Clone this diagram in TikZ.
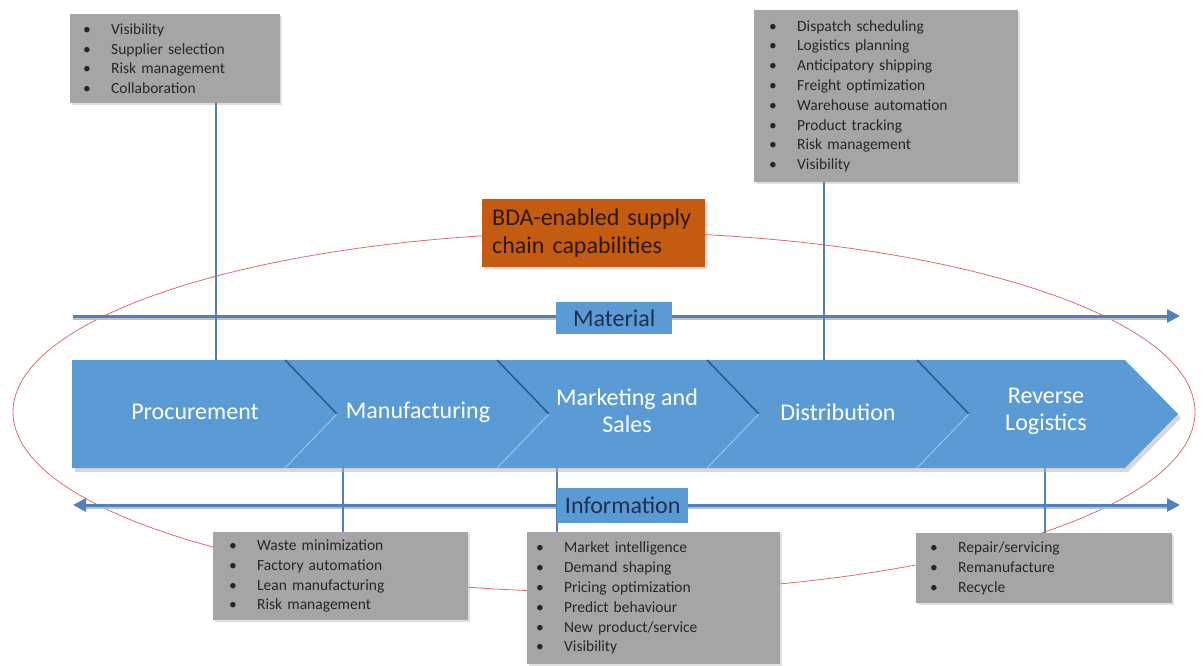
\documentclass[tikz,border=0pt]{standalone}
\usepackage{fontspec}
\setmainfont{Carlito}
\usetikzlibrary{arrows.meta,shadows}
\definecolor{chev}{HTML}{5B9BD5}
\definecolor{lineblue}{HTML}{4F81BD}
\definecolor{graybox}{HTML}{A5A5A5}
\definecolor{orangebox}{HTML}{C55A11}
\definecolor{ellred}{HTML}{E06A6A}
\definecolor{txtdark}{HTML}{262626}
\definecolor{sepdark}{HTML}{2E5C8A}
\definecolor{seplight}{HTML}{9DC3E6}
\definecolor{labtext}{HTML}{1F2F4F}
\newcommand{\bitem}[1]{\makebox[28pt][l]{\textbullet}#1}
\begin{document}
\begin{tikzpicture}[x=1pt,y=-1pt,
  gbox/.style={fill=graybox, anchor=north west, inner ysep=0pt, align=left,
    font=\fontsize{15.5}{19.8}\selectfont, text=txtdark,
    drop shadow={shadow xshift=2pt, shadow yshift=-2pt, opacity=0.25}},
  lab/.style={fill=chev, anchor=north west, inner sep=0pt, font=\fontsize{24}{28}\selectfont, text=labtext},
  chevtext/.style={text=white, align=center, font=\fontsize{24}{27}\selectfont},
  vline/.style={lineblue, line width=1.5pt},
  flow/.style={lineblue, line width=3pt},
  flowtip/.tip={Triangle[length=13pt,width=13pt]}
]
\useasboundingbox (0,0) rectangle (1204,666);
% red ellipse
\draw[ellred, line width=0.8pt] (604,412) ellipse [x radius=591, y radius=180];
% coordinates
\coordinate (matL) at (73,316);
\coordinate (matR) at (1180,316);
\coordinate (infL) at (73,505);
\coordinate (infR) at (1180,505);
\coordinate (c1) at (216,360);
\coordinate (c2) at (824,360);
\coordinate (c3) at (343,468);
\coordinate (c4) at (557,468);
\coordinate (c5) at (1045,468);
% boxes
\node[gbox, inner xsep=13pt, text width=184pt, minimum height=89pt] (tl) at (70,14)
 {\bitem{Visibility}\\\bitem{Supplier selection}\\\bitem{Risk management}\\\bitem{Collaboration}};
\node[gbox, inner xsep=15pt, text width=234pt, minimum height=172pt] (tr) at (754,10)
 {\bitem{Dispatch scheduling}\\\bitem{Logistics planning}\\\bitem{Anticipatory shipping}\\\bitem{Freight optimization}\\\bitem{Warehouse automation}\\\bitem{Product tracking}\\\bitem{Risk management}\\\bitem{Visibility}};
\node[gbox, inner xsep=16pt, text width=223pt, minimum height=88pt] (ba) at (213,532)
 {\bitem{Waste minimization}\\\bitem{Factory automation}\\\bitem{Lean manufacturing}\\\bitem{Risk management}};
\node[gbox, inner xsep=9pt, text width=235pt, minimum height=132pt] (bb) at (527,532)
 {\bitem{Market intelligence}\\\bitem{Demand shaping}\\\bitem{Pricing optimization}\\\bitem{Predict behaviour}\\\bitem{New product/service}\\\bitem{Visibility}};
\node[gbox, inner xsep=14pt, text width=228pt, minimum height=70pt] (bc) at (916,533)
 {\bitem{Repair/servicing}\\\bitem{Remanufacture}\\\bitem{Recycle}};
% orange box
\node[fill=orangebox, anchor=north west, minimum width=223pt, minimum height=68pt, inner xsep=10pt, inner ysep=0pt,
  text width=203pt, align=left, font=\fontsize{24}{28}\selectfont, text={rgb,255:red,45;green,25;blue,10},
  drop shadow={shadow xshift=2pt, shadow yshift=-2pt, opacity=0.3}] (bda) at (482,199)
 {BDA-enabled supply\\chain capabilities};
% flow lines with shadows
\draw[black!25, line width=3pt] ([yshift=-2pt]matL) -- ([yshift=-2pt,xshift=-10pt]matR);
\draw[flow, -flowtip] (matL) -- (matR);
\draw[black!25, line width=3pt] ([yshift=-2pt,xshift=10pt]infL) -- ([yshift=-2pt,xshift=-10pt]infR);
\draw[flow, flowtip-flowtip] (infL) -- (infR);
% vertical connectors
\draw[vline] (tl.south -| c1) -- (c1);
\draw[vline] (tr.south -| c2) -- (c2);
\draw[vline] (c3) -- (c3 |- ba.north);
\draw[vline] (c4) -- (c4 |- bb.north);
\draw[vline] (c5) -- (c5 |- bc.north);
% chevron band
\fill[black!30, opacity=0.5] (75,364) -- (1128,364) -- (1181,418) -- (1128,472) -- (75,472) -- cycle;
\fill[chev] (72,360) -- (1125,360) -- (1178,414) -- (1125,468) -- (72,468) -- cycle;
\foreach \x in {285,497,707,917}{
  \draw[sepdark, line width=1.6pt] (\x,360) -- (\x+52,414);
  \draw[seplight, line width=1pt] (\x+52,414) -- (\x,468);
}
\node[chevtext] (proc) at (195,412) {Procurement};
\node[chevtext] (manu) at (418,412) {Manufacturing};
\node[chevtext] (mkt) at (627,411) {Marketing and\\Sales};
\node[chevtext] (dist) at (838,412) {Distribution};
\node[chevtext] (rev) at (1046,411) {Reverse\\Logistics};
% labels
\node[lab, minimum width=116pt, minimum height=32pt] (mat) at (556,302) {Material};
\node[lab, minimum width=131pt, minimum height=35pt] (inf) at (557,488) {Information};
\end{tikzpicture}
\end{document}
